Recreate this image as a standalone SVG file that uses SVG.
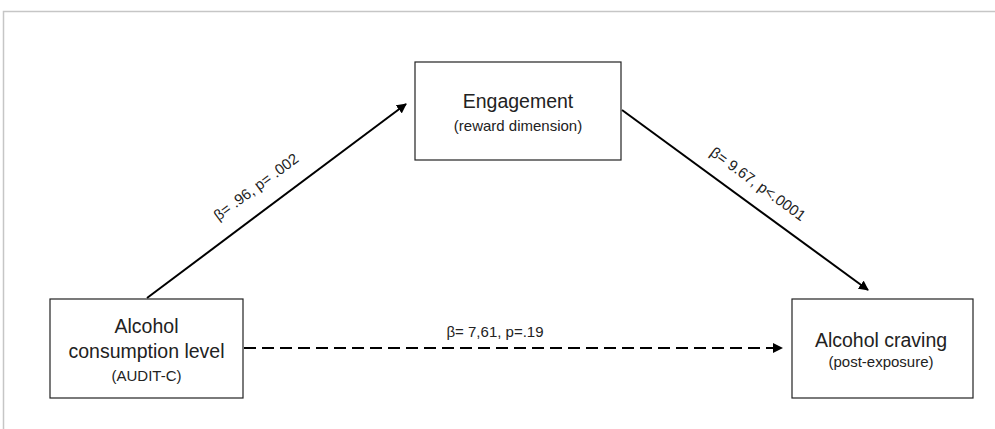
<svg xmlns="http://www.w3.org/2000/svg" width="995" height="429" viewBox="0 0 995 429">
<defs>
<style>
.box{fill:#fff;stroke:#222;stroke-width:1.2}
.t{font-family:"Liberation Sans",Arial,sans-serif;fill:#222;text-anchor:middle}
.big{font-size:19.5px}
.sm{font-size:15px}
.lbl{font-size:15px}
.edge{stroke:#000;stroke-width:2;fill:none}
</style>
<marker id="ah" viewBox="0 0 10 10" refX="9" refY="5" markerWidth="5" markerHeight="5" orient="auto" markerUnits="strokeWidth">
<path d="M0,0 L10,5 L0,10 z" fill="#000"/>
</marker>
</defs>
<rect width="995" height="429" fill="#fff"/>
<path d="M3.5,429 V11.5 H995" fill="none" stroke="#c6c6c6" stroke-width="1.5"/>
<g id="connectors">
<line class="edge" x1="147" y1="298" x2="406" y2="104" marker-end="url(#ah)"/>
<line class="edge" x1="622" y1="110" x2="868" y2="290" marker-end="url(#ah)"/>
<line class="edge" x1="244" y1="348" x2="782" y2="348" stroke-width="1.3" stroke-dasharray="12,6" marker-end="url(#ah)"/>
<text class="t lbl" transform="translate(259,191) rotate(-36.7)">β= .96, p= .002</text>
<text class="t lbl" transform="translate(755,188) rotate(36.2)">β= 9.67, p&lt;.0001</text>
<text class="t lbl" x="495" y="337">β= 7,61, p=.19</text>
</g>
<g id="engagement">
<rect class="box" x="415" y="62" width="206" height="98"/>
<text class="t big" x="518" y="108">Engagement</text>
<text class="t sm" x="518" y="131">(reward dimension)</text>
</g>
<g id="alcohol-consumption">
<rect class="box" x="50" y="299" width="193" height="99"/>
<text class="t big" x="146.5" y="333">Alcohol</text>
<text class="t big" x="146.5" y="358">consumption level</text>
<text class="t sm" x="146.5" y="381">(AUDIT-C)</text>
</g>
<g id="alcohol-craving">
<rect class="box" x="792" y="299" width="181" height="99"/>
<text class="t big" x="881" y="347">Alcohol craving</text>
<text class="t sm" x="881" y="367">(post-exposure)</text>
</g>
</svg>
